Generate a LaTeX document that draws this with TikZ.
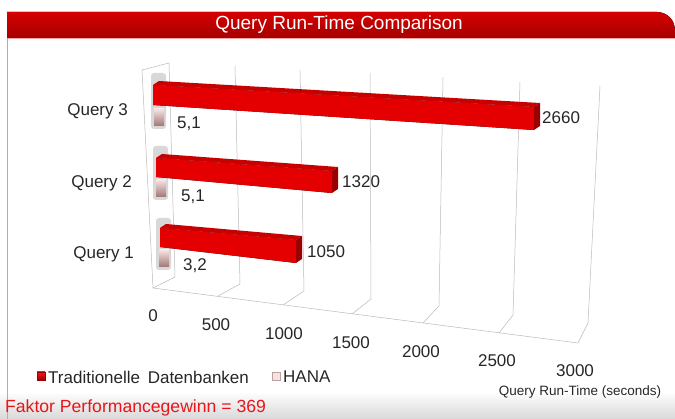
\documentclass[tikz,border=0pt]{standalone}
\usepackage{fontspec}
\setmainfont{Liberation Sans}
\usepackage{tikz}
\usetikzlibrary{positioning}

\definecolor{titelhell}{RGB}{212,0,0}
\definecolor{titeldunkel}{RGB}{166,0,0}
\definecolor{balkenhell}{RGB}{255,24,24}
\definecolor{balkendunkel}{RGB}{228,0,0}
\definecolor{balkenende}{RGB}{155,0,0}
\definecolor{balkenoben}{RGB}{200,0,0}
\definecolor{hanahell}{RGB}{246,226,226}
\definecolor{hanadunkel}{RGB}{160,118,118}
\definecolor{faktorrot}{RGB}{232,22,26}
\definecolor{schrift}{RGB}{38,38,38}

\begin{document}
\begin{tikzpicture}[x=1pt, y=-1pt, every node/.style={inner sep=0pt, text=schrift, font=\fontsize{17}{20}\selectfont},
  gitter/.style={color=gray!55, line width=0.5pt},
  balken/.style={top color=balkendunkel, middle color=balkenhell, bottom color=balkendunkel},
  hana/.style={top color=hanahell, bottom color=hanadunkel},
  schatten/.style={fill=gray!55, opacity=0.55, rounded corners=3pt}]
  \useasboundingbox (0,0) rectangle (675,419);

  \fill[top color=gray!4, bottom color=gray!30] (0,395) rectangle (675,419); % dol
  \fill[top color=titelhell, bottom color=titeldunkel] (7,38) -- (7,12) -- (657,12) arc[start angle=90, end angle=0, radius=18pt] -- (675,38) -- cycle; % tytul
  \draw[red!35, line width=0.8pt] (7,38.6) -- (675,38.6);
  \draw[red!45, line width=0.9pt] (7,38) -- (7,419);

  \node[text=white, font=\fontsize{19}{21}\selectfont] (titel) at (339,25) {Query Run-Time Comparison};

  % sciana boczna i siatka
  \draw[gitter, fill=white] (142,70) -- (169,63) -- (175,277) -- (153,288) -- cycle;
  \draw[gitter] (218,296) -- (240,284) -- (235,66);
  \draw[gitter] (283,305) -- (304,291) -- (300,70);
  \draw[gitter] (352,314) -- (371,299) -- (370,73);
  \draw[gitter] (423,323) -- (439,306) -- (443,77);
  \draw[gitter] (499,333) -- (513,315) -- (520,82);
  \draw[gitter] (578,343) -- (588,323) -- (600,86);
  \draw[gitter] (153,288) -- (578,343); % przod

  % HANA
  \fill[schatten] (151,73) rectangle (166,129);
  \fill[hana] (154,109) rectangle (164,126);
  \fill[schatten] (153,146) rectangle (168,200);
  \fill[hana] (156,180) rectangle (166,197);
  \fill[schatten] (156,218) rectangle (171,270);
  \fill[hana] (159,250) rectangle (169,267);

  % Query 3
  \fill[balken] (153,85) -- (534,107) -- (534,130) -- (153,105) -- cycle; % przod
  \fill[balkenoben] (153,85) -- (159,81) -- (540,103) -- (534,107) -- cycle; % gora
  \fill[balkenende] (534,107) -- (540,103) -- (540,126) -- (534,130) -- cycle; % bok
  % Query 2
  \fill[balken] (156,158) -- (332,171) -- (332,193) -- (156,177) -- cycle;
  \fill[balkenoben] (156,158) -- (162,154) -- (338,167) -- (332,171) -- cycle;
  \fill[balkenende] (332,171) -- (338,167) -- (338,189) -- (332,193) -- cycle;
  % Query 1
  \fill[balken] (160,228) -- (296,240) -- (296,263) -- (160,247) -- cycle;
  \fill[balkenoben] (160,228) -- (166,224) -- (302,236) -- (296,240) -- cycle;
  \fill[balkenende] (296,240) -- (302,236) -- (302,259) -- (296,263) -- cycle;

  \node[anchor=west] (wert3) at (542,118) {2660};
  \node[anchor=west] (wert2) at (342,182) {1320};
  \node[anchor=west] (wert1) at (307,252) {1050};
  \node[anchor=west] (hana3) at (177,124) {5,1};
  \node[anchor=west] (hana2) at (181,197) {5,1};
  \node[anchor=west] (hana1) at (183,266) {3,2};

  \node[anchor=east] (query3) at (128,111) {Query 3};
  \node[anchor=east] (query2) at (132,183) {Query 2};
  \node[anchor=east] (query1) at (134,254) {Query 1};

  \node (t0) at (153,316) {0};
  \node (t500) at (216,325) {500};
  \node (t1000) at (284,334) {1000};
  \node (t1500) at (351,343) {1500};
  \node (t2000) at (421,352) {2000};
  \node (t2500) at (497,361) {2500};
  \node (t3000) at (575,371) {3000};
  \node[font=\fontsize{13.5}{15}\selectfont] (achse) at (580,392) {Query Run-Time (seconds)};

  % legenda
  \node[draw=balkenende, top color=balkenhell, bottom color=balkenende, minimum size=8pt] (leg1) at (41,376) {};
  \node[anchor=west] (leg1text) at (48,377) {Traditionelle\hspace{0.45em}Datenbanken};
  \node[draw=hanadunkel!70, fill=hanahell, minimum size=8pt] (leg2) at (276,376) {};
  \node[anchor=west] (leg2text) at (283,377) {HANA};

  \node[anchor=west, text=faktorrot, font=\fontsize{17.6}{20}\selectfont] (faktor) at (5,408) {Faktor Performancegewinn = 369};
\end{tikzpicture}
\end{document}
